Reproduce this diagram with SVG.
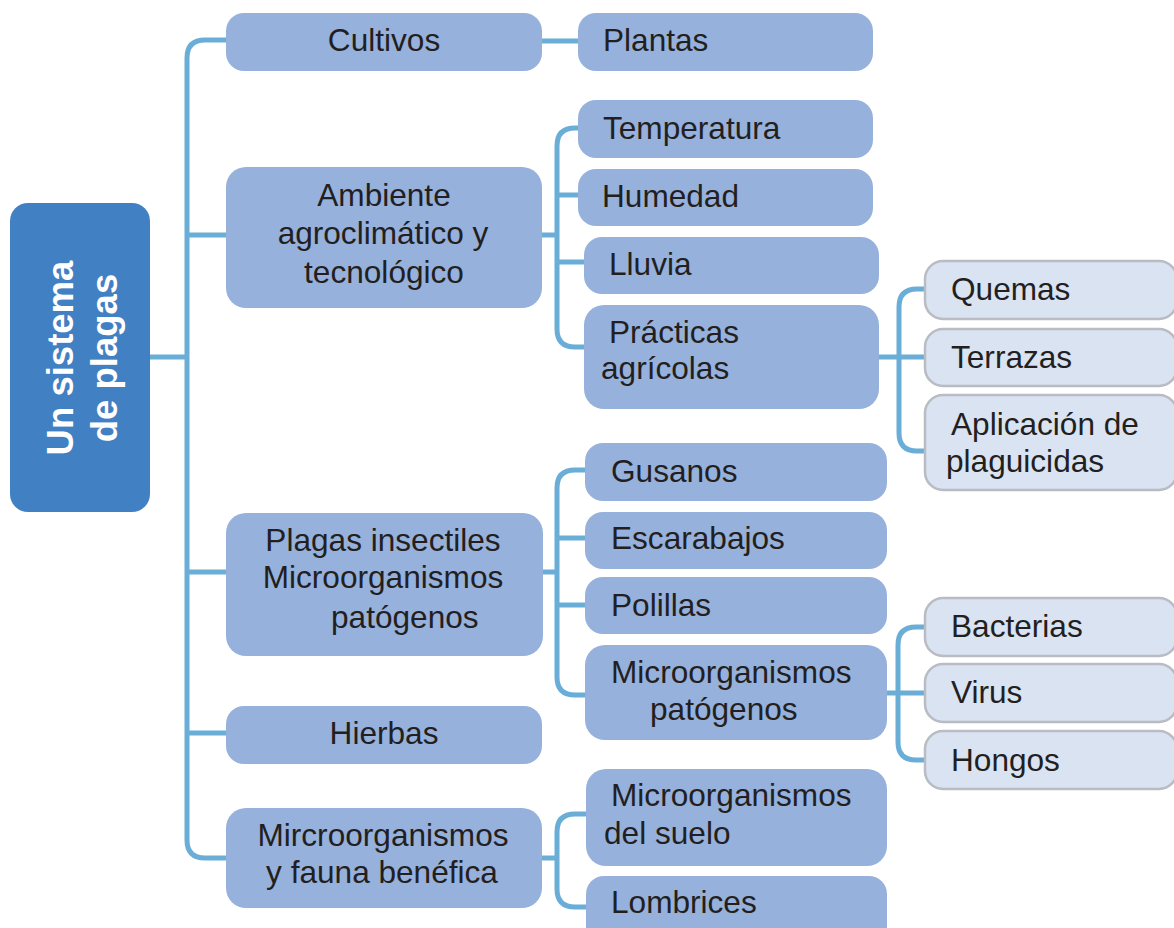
<svg xmlns="http://www.w3.org/2000/svg" width="1174" height="928" viewBox="0 0 1174 928">
<style>
.n{fill:#96b1dc;}
.l{fill:#dae3f2;stroke:#b9bcc2;stroke-width:2.5;}
.t{font-family:"Liberation Sans",Arial,sans-serif;font-size:31.6px;fill:#231f20;}
.c{text-anchor:middle;}
.r{font-family:"Liberation Sans",Arial,sans-serif;font-size:36.5px;font-weight:bold;fill:#ffffff;text-anchor:middle;}
.e{fill:none;stroke:#6aaed8;stroke-width:5;stroke-linecap:butt;stroke-linejoin:round;}
</style>
<rect width="1174" height="928" fill="#ffffff"/>
<g id="connectors">
<path class="e" d="M150 357 H187"/>
<path class="e" d="M226 40 H205 Q187 40 187 58 V840 Q187 858 205 858 H226"/>
<path class="e" d="M187 235 H226"/>
<path class="e" d="M187 572 H226"/>
<path class="e" d="M187 733 H226"/>
<path class="e" d="M542 41 H578"/>
<path class="e" d="M542 235 H557"/>
<path class="e" d="M578 128 H575 Q557 128 557 146 V329 Q557 347 575 347 H584"/>
<path class="e" d="M557 195 H578"/>
<path class="e" d="M557 262 H584"/>
<path class="e" d="M878 357 H926"/>
<path class="e" d="M926 289 H917 Q899 289 899 307 V433 Q899 451 917 451 H926"/>
<path class="e" d="M542 572 H557"/>
<path class="e" d="M585 470 H575 Q557 470 557 488 V677 Q557 695 575 695 H585"/>
<path class="e" d="M557 538 H585"/>
<path class="e" d="M557 605 H585"/>
<path class="e" d="M887 693 H926"/>
<path class="e" d="M926 627 H916 Q898 627 898 645 V742 Q898 760 916 760 H926"/>
<path class="e" d="M542 858 H557"/>
<path class="e" d="M586 814 H575 Q557 814 557 832 V889 Q557 907 575 907 H586"/>
</g>
<g id="root">
<rect x="10" y="203" width="140" height="309" rx="18" fill="#4181c3"/>
<text class="r" transform="translate(73,358) rotate(-90)">Un sistema</text>
<text class="r" transform="translate(117,358) rotate(-90)">de plagas</text>
</g>
<g id="cultivos">
<rect class="n" x="226" y="13" width="316" height="58" rx="18"/>
<text class="t c" x="384" y="51">Cultivos</text>
</g>
<g id="ambiente">
<rect class="n" x="226" y="167" width="316" height="141" rx="20"/>
<text class="t c" x="384" y="206">Ambiente</text>
<text class="t c" x="383" y="244">agroclimático y</text>
<text class="t c" x="384" y="283">tecnológico</text>
</g>
<g id="plagas">
<rect class="n" x="226" y="513" width="317" height="143" rx="20"/>
<text class="t c" x="383" y="551">Plagas insectiles</text>
<text class="t c" x="383" y="588">Microorganismos</text>
<text class="t" x="331" y="628">patógenos</text>
</g>
<g id="hierbas">
<rect class="n" x="226" y="706" width="316" height="58" rx="18"/>
<text class="t c" x="384" y="744">Hierbas</text>
</g>
<g id="fauna">
<rect class="n" x="226" y="808" width="316" height="100" rx="20"/>
<text class="t c" x="383" y="846">Mircroorganismos</text>
<text class="t c" x="382" y="883">y fauna benéfica</text>
</g>
<g id="plantas">
<rect class="n" x="578" y="13" width="295" height="58" rx="18"/>
<text class="t" x="603" y="51">Plantas</text>
</g>
<g id="temperatura">
<rect class="n" x="578" y="100" width="295" height="58" rx="18"/>
<text class="t" x="603" y="139">Temperatura</text>
</g>
<g id="humedad">
<rect class="n" x="578" y="169" width="295" height="57" rx="18"/>
<text class="t" x="602" y="207">Humedad</text>
</g>
<g id="lluvia">
<rect class="n" x="584" y="237" width="295" height="57" rx="18"/>
<text class="t" x="609" y="275">Lluvia</text>
</g>
<g id="practicas">
<rect class="n" x="584" y="305" width="295" height="104" rx="20"/>
<text class="t" x="609" y="343">Prácticas</text>
<text class="t" x="601" y="379">agrícolas</text>
</g>
<g id="quemas">
<rect class="l" x="925" y="261" width="252" height="58" rx="18"/>
<text class="t" x="951" y="300">Quemas</text>
</g>
<g id="terrazas">
<rect class="l" x="925" y="329" width="252" height="57" rx="18"/>
<text class="t" x="951" y="368">Terrazas</text>
</g>
<g id="aplicacion">
<rect class="l" x="925" y="395" width="252" height="95" rx="18"/>
<text class="t" x="951" y="435">Aplicación de</text>
<text class="t" x="946" y="472">plaguicidas</text>
</g>
<g id="gusanos">
<rect class="n" x="585" y="443" width="302" height="58" rx="18"/>
<text class="t" x="611" y="482">Gusanos</text>
</g>
<g id="escarabajos">
<rect class="n" x="585" y="512" width="302" height="57" rx="18"/>
<text class="t" x="611" y="549">Escarabajos</text>
</g>
<g id="polillas">
<rect class="n" x="585" y="577" width="302" height="57" rx="18"/>
<text class="t" x="611" y="616">Polillas</text>
</g>
<g id="micropatogenos">
<rect class="n" x="585" y="645" width="302" height="95" rx="20"/>
<text class="t" x="611" y="683">Microorganismos</text>
<text class="t" x="650" y="720">patógenos</text>
</g>
<g id="bacterias">
<rect class="l" x="925" y="598" width="252" height="58" rx="18"/>
<text class="t" x="951" y="637">Bacterias</text>
</g>
<g id="virus">
<rect class="l" x="925" y="664" width="252" height="58" rx="18"/>
<text class="t" x="951" y="703">Virus</text>
</g>
<g id="hongos">
<rect class="l" x="925" y="731" width="252" height="58" rx="18"/>
<text class="t" x="951" y="771">Hongos</text>
</g>
<g id="microsuelo">
<rect class="n" x="586" y="769" width="301" height="97" rx="20"/>
<text class="t" x="611" y="806">Microorganismos</text>
<text class="t" x="604" y="844">del suelo</text>
</g>
<g id="lombrices">
<rect class="n" x="586" y="876" width="301" height="70" rx="18"/>
<text class="t" x="611" y="913">Lombrices</text>
</g>
</svg>
